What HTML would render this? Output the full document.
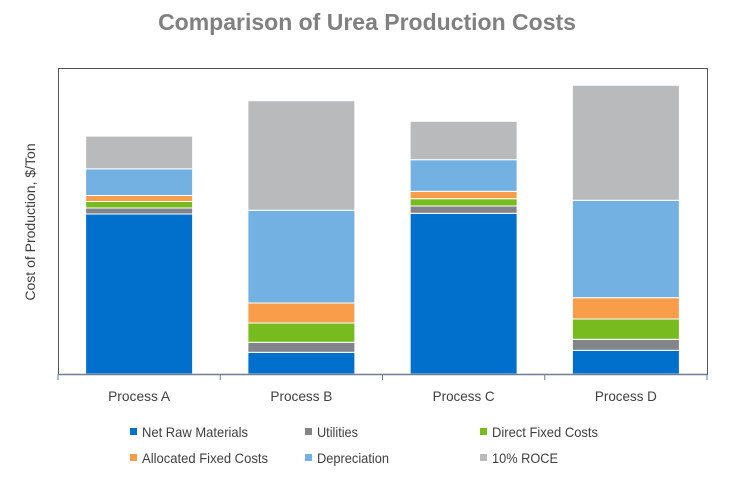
<!DOCTYPE html>
<html><head><meta charset="utf-8"><style>
body{margin:0;background:#fff;}
svg{display:block;font-family:"Liberation Sans",sans-serif;}
</style></head><body>
<svg id="chart" width="740" height="484">
<text x="367" y="30" text-anchor="middle" font-size="23" font-weight="bold" fill="#808080">Comparison of Urea Production Costs</text>
<rect x="58.5" y="68.5" width="649" height="306" fill="none" stroke="#555" stroke-width="1"/>
<text transform="translate(35,222) rotate(-90)" text-anchor="middle" font-size="14" fill="#404040">Cost of Production, $/Ton</text>
<g id="bars"></g><g id="xaxis"></g><g id="legend"></g>
</svg>
<script>
const categories=["Process A","Process B","Process C","Process D"];
const seriesNames=["Net Raw Materials","Utilities","Direct Fixed Costs","Allocated Fixed Costs","Depreciation","10% ROCE"];
const netRaw=[160,21.7,160.7,23.7];
const utilities=[6,10,7.3,11];
const directFixed=[6.5,19.3,7.3,20.3];
const allocatedFixed=[6,20,7.4,21.3];
const depreciation=[26.7,92.7,31.6,97.4];
const roce=[32.7,109.6,38.4,115];
const colors=["#0070CC","#838489","#77BB1F","#F99D4A","#74B1E3","#B9BABC"];
const legendWidths=[106,41,106,126,72,66];
const series=[netRaw,utilities,directFixed,allocatedFixed,depreciation,roce];
const NS="http://www.w3.org/2000/svg";
const L=58,R=707,T=68,B=374,YMAX=306;
const bw=(R-L)/categories.length;
const y=v=>B-v*(B-T)/YMAX;
const xc=i=>L+bw*(i+0.5);
const gb=document.getElementById('bars'),gx=document.getElementById('xaxis'),gl=document.getElementById('legend');
categories.forEach((c,i)=>{
  let acc=0;
  series.forEach((s,k)=>{
    const r=document.createElementNS(NS,'rect');
    const y0=y(acc),y1=y(acc+s[i]);
    r.setAttribute('x',xc(i)-53.5);r.setAttribute('width',107);
    r.setAttribute('y',y1);r.setAttribute('height',Math.max(0,y0-y1));
    r.setAttribute('fill',colors[k]);r.setAttribute('stroke','#fff');r.setAttribute('stroke-width','1');
    
    
    gb.appendChild(r);acc+=s[i];
  });
  const t=document.createElementNS(NS,'text');
  t.setAttribute('x',xc(i));t.setAttribute('y',401);t.setAttribute('text-anchor','middle');
  t.setAttribute('font-size','14');t.setAttribute('fill','#404040');t.textContent=c;
  t.setAttribute('textLength',62);t.setAttribute('lengthAdjust','spacingAndGlyphs');
  
  
  gx.appendChild(t);
});
const ax=document.createElementNS(NS,'line');
ax.setAttribute('x1',L);ax.setAttribute('x2',R);ax.setAttribute('y1',B+0.5);ax.setAttribute('y2',B+0.5);
ax.setAttribute('stroke','#6E7F8F');ax.setAttribute('stroke-width','1.5');


gx.appendChild(ax);
for(let i=0;i<=categories.length;i++){
  const tk=document.createElementNS(NS,'line');
  const xx=L+bw*i;
  tk.setAttribute('x1',xx);tk.setAttribute('x2',xx);tk.setAttribute('y1',B);tk.setAttribute('y2',B+6);
  tk.setAttribute('stroke','#6E7F8F');
  
  
  gx.appendChild(tk);
}
const lx=[130,305,480],ly=[432,458];
seriesNames.forEach((n,k)=>{
  const g=document.createElementNS(NS,'g');
  
  
  const cx=lx[k%3],cy=ly[Math.floor(k/3)];
  const s=document.createElementNS(NS,'rect');
  s.setAttribute('x',cx);s.setAttribute('y',cy-4);s.setAttribute('width',7);s.setAttribute('height',7);s.setAttribute('fill',colors[k]);
  const t=document.createElementNS(NS,'text');
  t.setAttribute('x',cx+12);t.setAttribute('y',cy+5);t.setAttribute('font-size','14');t.setAttribute('fill','#404040');
  t.setAttribute('textLength',legendWidths[k]);t.setAttribute('lengthAdjust','spacingAndGlyphs');
  t.textContent=n;
  g.appendChild(s);g.appendChild(t);gl.appendChild(g);
});
</script>
</body></html>
